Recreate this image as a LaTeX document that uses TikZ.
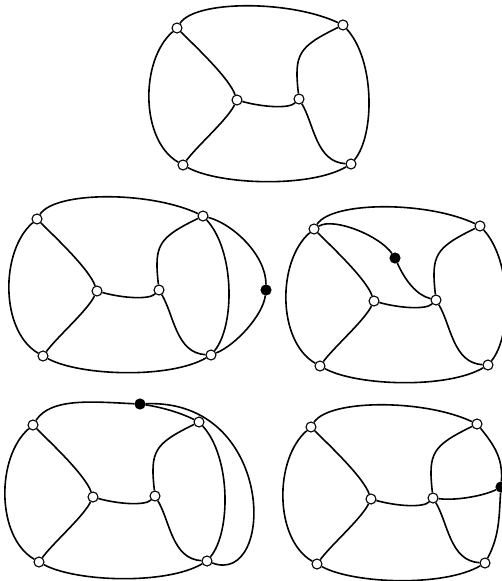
\documentclass[tikz,border=0pt]{standalone}
\usetikzlibrary{positioning}
\tikzset{
    vertice/.style={circle, draw, fill=white, inner sep=0pt, minimum size=10pt, line width=1.1pt},
    nuevo/.style={vertice, fill=black},
    arista/.style={line width=1.6pt},
}
\newcommand{\grafobase}{%
  \node[vertice] (a) at (177,28) {};
  \node[vertice] (b) at (343,25) {};
  \node[vertice] (c) at (237,100) {};
  \node[vertice] (d) at (299,99) {};
  \node[vertice] (e) at (183,165) {};
  \node[vertice] (f) at (351,164) {};
  \draw[arista] (a) .. controls +(-37,32) and +(-43,-25) .. (e);
  \draw[arista] (e) .. controls +(37,20) and +(-41,24) .. (f);
  \draw[arista] (a) .. controls +(20,20) and +(-8,-22) .. (c);
  \draw[arista] (c) .. controls +(-10,20) and +(15,-20) .. (e);
  \draw[arista] (c) .. controls +(25,7) and +(-10,10) .. (d);
  \draw[arista] (d) .. controls +(-5,-45) and +(-45,22) .. (b);
  \draw[arista] (d) .. controls +(15,25) and +(-35,-2) .. (f);
}

\begin{document}
\begin{tikzpicture}[x=1pt, y=-1pt]
\useasboundingbox (0,0) rectangle (502,581);
\begin{scope}[shift={(0,0)}, name prefix=s1-]
\grafobase
\draw[arista] (a) .. controls +(18,-28) and +(-53,-25) .. (b);
\draw[arista] (b) .. controls +(32,35) and +(24,-29) .. (f);
\end{scope}
\begin{scope}[shift={(-140,191)}, name prefix=s2-]
\grafobase
\draw[arista] (a) .. controls +(18,-28) and +(-53,-25) .. (b);
\draw[arista] (b) .. controls +(32,35) and +(24,-29) .. (f);
\node[nuevo] (g) at (406,99) {};
\draw[arista] (b) .. controls +(30,8) and +(0,-35) .. (g);
\draw[arista] (g) .. controls +(-3,25) and +(25,-10) .. (f);
\end{scope}
\begin{scope}[shift={(137,201)}, name prefix=s3-]
\grafobase
\draw[arista] (a) .. controls +(18,-28) and +(-53,-25) .. (b);
\draw[arista] (b) .. controls +(32,35) and +(24,-29) .. (f);
\node[nuevo] (g) at (258,57) {};
\draw[arista] (a) .. controls +(20,-12) and +(-15,-22) .. (g);
\draw[arista] (g) .. controls +(10,22) and +(-20,-5) .. (d);
\end{scope}
\begin{scope}[shift={(-144,397)}, name prefix=s4-]
\grafobase
\draw[arista] (b) .. controls +(32,35) and +(24,-29) .. (f);
\node[nuevo] (g) at (284,7) {};
\draw[arista] (a) .. controls +(18,-28) and +(-45,-2) .. (g);
\draw[arista] (g) .. controls +(20,3) and +(-20,-10) .. (b);
\draw[arista] (g) .. controls +(136,-6) and +(69,26) .. (f);
\end{scope}
\begin{scope}[shift={(134,399)}, name prefix=s5-]
\grafobase
\draw[arista] (a) .. controls +(18,-28) and +(-53,-25) .. (b);
\node[nuevo] (g) at (367,88) {};
\draw[arista] (b) .. controls +(18,22) and +(2,-28) .. (g);
\draw[arista] (g) .. controls +(-2,28) and +(15,-28) .. (f);
\draw[arista] (d) .. controls +(25,3) and +(-15,8) .. (g);
\end{scope}
\end{tikzpicture}
\end{document}
